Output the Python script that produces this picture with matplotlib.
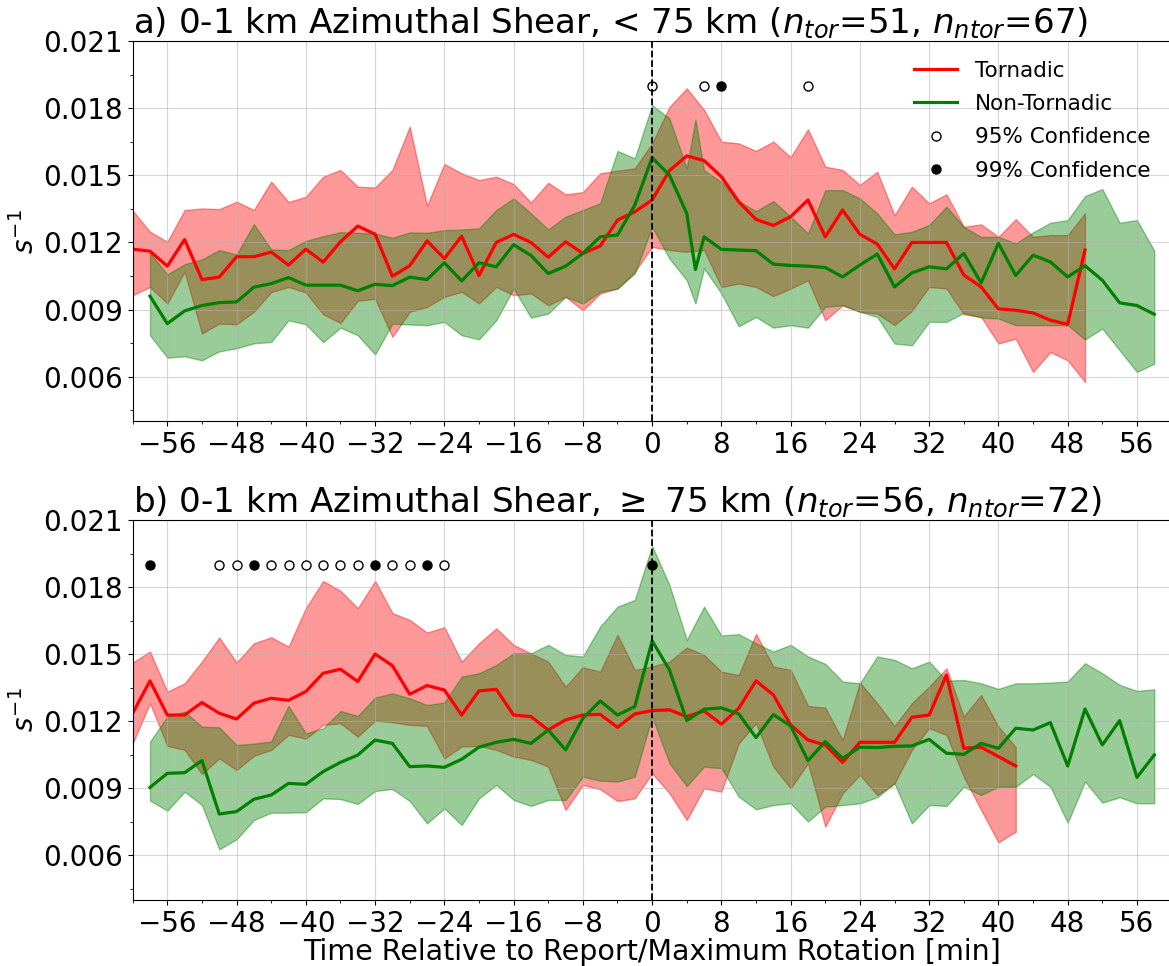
import matplotlib
matplotlib.use("Agg")
import matplotlib.pyplot as plt
from matplotlib.ticker import AutoMinorLocator, MultipleLocator

# ---- panel a: < 75 km ----
t_tor_a = list(range(-60, 51, 2))
tor_a = [0.01170, 0.01161, 0.01094, 0.01213, 0.01034, 0.01045, 0.01136, 0.01136, 0.01157, 0.01099,
         0.01170, 0.01112, 0.01203, 0.01273, 0.01237, 0.01049, 0.01096, 0.01207, 0.01128, 0.01228,
         0.01052, 0.01200, 0.01236, 0.01200, 0.01134, 0.01203, 0.01151, 0.01184, 0.01300, 0.01337,
         0.01390, 0.01521, 0.01587, 0.01566, 0.01494, 0.01382, 0.01303, 0.01276, 0.01315, 0.01390,
         0.01225, 0.01345, 0.01236, 0.01193, 0.01082, 0.01200, 0.01200, 0.01200, 0.01054, 0.01001,
         0.00903, 0.00897, 0.00885, 0.00852, 0.00834, 0.01166]
tor_a_hi = [0.01342, 0.01248, 0.01203, 0.01345, 0.01352, 0.01349, 0.01382, 0.01345, 0.01472, 0.01381,
            0.01404, 0.01494, 0.01524, 0.01449, 0.01446, 0.01524, 0.01718, 0.01364, 0.01551, 0.01509,
            0.01479, 0.01494, 0.01461, 0.01379, 0.01467, 0.01415, 0.01425, 0.01509, 0.01521, 0.01531,
            0.01643, 0.01806, 0.01889, 0.01793, 0.01651, 0.01643, 0.01609, 0.01651, 0.01581, 0.01706,
            0.01539, 0.01524, 0.01457, 0.01516, 0.01322, 0.01449, 0.01375, 0.01415, 0.01270, 0.01281,
            0.01225, 0.01304, 0.01225, 0.01233, 0.01233, 0.01330]
tor_a_lo = [0.00964, 0.01001, 0.00927, 0.01069, 0.00793, 0.00837, 0.00834, 0.00890, 0.00978, 0.01001,
            0.00976, 0.00879, 0.00840, 0.00939, 0.00948, 0.00778, 0.00890, 0.00912, 0.00957, 0.00979,
            0.00927, 0.01001, 0.00964, 0.00972, 0.00919, 0.00957, 0.00897, 0.00972, 0.00994, 0.01069,
            0.01180, 0.01166, 0.01158, 0.01166, 0.01001, 0.01016, 0.01001, 0.00960, 0.00994, 0.01031,
            0.00852, 0.00919, 0.00890, 0.00882, 0.00830, 0.00894, 0.01001, 0.00994, 0.00879, 0.00867,
            0.00748, 0.00770, 0.00621, 0.00710, 0.00673, 0.00576]

t_ntor_a = list(range(-58, 5, 2)) + [5] + list(range(6, 59, 2))
ntor_a = [0.00960, 0.00837, 0.00894, 0.00918, 0.00931, 0.00934, 0.01000, 0.01016, 0.01043, 0.01009,
          0.01009, 0.01009, 0.00984, 0.01013, 0.01007, 0.01045, 0.01034, 0.01109, 0.01028, 0.01109,
          0.01091, 0.01190, 0.01142, 0.01061, 0.01094, 0.01151, 0.01225, 0.01233, 0.01367, 0.01579,
          0.01501, 0.01330,
          0.01079,
          0.01225, 0.01169, 0.01166, 0.01163, 0.01103, 0.01097, 0.01094, 0.01088, 0.01046,
          0.01099, 0.01148, 0.01001, 0.01064, 0.01091, 0.01082, 0.01151, 0.01019, 0.01196,
          0.01052, 0.01143, 0.01113, 0.01046, 0.01096, 0.01031, 0.00930, 0.00918, 0.00879]
ntor_a_hi = [0.01154, 0.01057, 0.01103, 0.01124, 0.01166, 0.01146, 0.01282, 0.01169, 0.01166, 0.01207,
             0.01228, 0.01246, 0.01243, 0.01240, 0.01221, 0.01245, 0.01243, 0.01255, 0.01258, 0.01263,
             0.01345, 0.01397, 0.01330, 0.01258, 0.01315, 0.01345, 0.01375, 0.01609, 0.01576, 0.01814,
             0.01754, 0.01531,
             0.01750,
             0.01523, 0.01471, 0.01385, 0.01340, 0.01385, 0.01315, 0.01240, 0.01434, 0.01434,
             0.01397, 0.01330, 0.01236, 0.01248, 0.01278, 0.01360, 0.01270, 0.01225, 0.01225,
             0.01196, 0.01245, 0.01288, 0.01300, 0.01407, 0.01439, 0.01288, 0.01300, 0.01163]
ntor_a_lo = [0.00785, 0.00685, 0.00691, 0.00673, 0.00713, 0.00727, 0.00749, 0.00755, 0.00852, 0.00834,
             0.00754, 0.00819, 0.00785, 0.00699, 0.00837, 0.00833, 0.00830, 0.00845, 0.00785, 0.00767,
             0.00852, 0.00994, 0.00864, 0.00882, 0.00957, 0.00927, 0.00979, 0.00994, 0.01061, 0.01270,
             0.01128, 0.01031,
             0.00927,
             0.01084, 0.00972, 0.00825, 0.00867, 0.00819, 0.00830, 0.00819, 0.00912, 0.00919,
             0.00890, 0.00867, 0.00748, 0.00740, 0.00845, 0.00845, 0.00885, 0.00864, 0.00860,
             0.00830, 0.00830, 0.00830, 0.00830, 0.00766, 0.00815, 0.00718, 0.00621, 0.00658]

sig95_a = [0, 6, 18]
sig99_a = [8]

# ---- panel b: >= 75 km ----
t_tor_b = list(range(-60, 43, 2))
tor_b = [0.01236, 0.01381, 0.01228, 0.01228, 0.01284, 0.01236, 0.01210, 0.01281, 0.01303, 0.01294,
         0.01333, 0.01415, 0.01433, 0.01378, 0.01501, 0.01449, 0.01321, 0.01360, 0.01340, 0.01228,
         0.01336, 0.01343, 0.01228, 0.01221, 0.01161, 0.01206, 0.01228, 0.01231, 0.01173, 0.01233,
         0.01248, 0.01251, 0.01221, 0.01246, 0.01187, 0.01258, 0.01381, 0.01318, 0.01184, 0.01116,
         0.01094, 0.01016, 0.01106, 0.01106, 0.01106, 0.01218, 0.01228, 0.01407, 0.01079, 0.01084,
         0.01042, 0.01000]
tor_b_hi = [0.01463, 0.01512, 0.01333, 0.01370, 0.01467, 0.01575, 0.01463, 0.01549, 0.01576, 0.01534,
            0.01706, 0.01828, 0.01784, 0.01706, 0.01828, 0.01684, 0.01654, 0.01597, 0.01621, 0.01467,
            0.01549, 0.01616, 0.01542, 0.01504, 0.01467, 0.01355, 0.01442, 0.01422, 0.01587, 0.01430,
            0.01445, 0.01467, 0.01530, 0.01497, 0.01422, 0.01407, 0.01591, 0.01445, 0.01430, 0.01269,
            0.01261, 0.01116, 0.01373, 0.01281, 0.01179, 0.01281, 0.01355, 0.01437, 0.01221, 0.01318,
            0.01176, 0.01084]
tor_b_lo = [0.01101, 0.01281, 0.01090, 0.01072, 0.00964, 0.01034, 0.00982, 0.01045, 0.01072, 0.01139,
            0.01122, 0.01184, 0.01191, 0.01131, 0.01203, 0.01196, 0.01184, 0.01179, 0.01034, 0.01087,
            0.01090, 0.01072, 0.01042, 0.01027, 0.00997, 0.00803, 0.00915, 0.00896, 0.00843, 0.00855,
            0.00967, 0.00878, 0.00758, 0.00900, 0.00885, 0.01101, 0.01191, 0.00997, 0.00900, 0.01012,
            0.00728, 0.00878, 0.00960, 0.00870, 0.00922, 0.01072, 0.01169, 0.01139, 0.00952, 0.00803,
            0.00658, 0.00706]

t_ntor_b = list(range(-58, 59, 2))
ntor_b = [0.00904, 0.00967, 0.00970, 0.01024, 0.00785, 0.00796, 0.00851, 0.00870, 0.00922, 0.00918,
          0.00975, 0.01016, 0.01049, 0.01116, 0.01101, 0.00997, 0.01000, 0.00994, 0.01030, 0.01084,
          0.01106, 0.01119, 0.01101, 0.01161, 0.01072, 0.01213, 0.01291, 0.01228, 0.01266, 0.01560,
          0.01430, 0.01203, 0.01254, 0.01260, 0.01233, 0.01127, 0.01230, 0.01179, 0.01024, 0.01109,
          0.01034, 0.01084, 0.01082, 0.01088, 0.01090, 0.01119, 0.01057, 0.01052, 0.01101, 0.01079,
          0.01169, 0.01161, 0.01194, 0.01000, 0.01255, 0.01094, 0.01203, 0.00949, 0.01049]
ntor_b_hi = [0.01109, 0.01221, 0.01243, 0.01176, 0.01173, 0.01094, 0.01100, 0.01110, 0.01269, 0.01146,
             0.01169, 0.01246, 0.01224, 0.01306, 0.01325, 0.01303, 0.01273, 0.01284, 0.01400, 0.01415,
             0.01452, 0.01504, 0.01504, 0.01542, 0.01497, 0.01490, 0.01624, 0.01713, 0.01743, 0.01985,
             0.01810, 0.01564, 0.01713, 0.01584, 0.01590, 0.01549, 0.01512, 0.01542, 0.01490, 0.01457,
             0.01378, 0.01370, 0.01490, 0.01475, 0.01437, 0.01467, 0.01382, 0.01385, 0.01370, 0.01345,
             0.01370, 0.01370, 0.01373, 0.01378, 0.01460, 0.01415, 0.01363, 0.01336, 0.01343]
ntor_b_lo = [0.00845, 0.00800, 0.00885, 0.00825, 0.00627, 0.00672, 0.00758, 0.00791, 0.00791, 0.00793,
             0.00855, 0.00852, 0.00830, 0.00888, 0.00897, 0.00843, 0.00743, 0.00810, 0.00736, 0.00855,
             0.00915, 0.00848, 0.00821, 0.00848, 0.00848, 0.00952, 0.00934, 0.00930, 0.00952, 0.01221,
             0.01012, 0.00910, 0.00997, 0.00990, 0.00863, 0.00806, 0.00825, 0.00833, 0.00751, 0.00818,
             0.00825, 0.00833, 0.00860, 0.00922, 0.00743, 0.00825, 0.00821, 0.00907, 0.00870, 0.00907,
             0.00907, 0.00964, 0.00907, 0.00746, 0.00930, 0.00836, 0.00860, 0.00833, 0.00833]

sig95_b = [-50, -48, -44, -42, -40, -38, -36, -34, -30, -28, -24]
sig99_b = [-58, -46, -32, -26, 0]

SIG_Y = 0.019
TICK_FS = 20


def draw_panel(ax, t_tor, tor, tor_lo, tor_hi, t_ntor, ntor, ntor_lo, ntor_hi, sig95, sig99, title):
    ax.fill_between(t_tor, tor_lo, tor_hi, color="red", alpha=0.4)
    ax.fill_between(t_ntor, ntor_lo, ntor_hi, color="green", alpha=0.4)
    ax.plot(t_tor, tor, color="red", lw=2.3, label="Tornadic")
    ax.plot(t_ntor, ntor, color="green", lw=2.3, label="Non-Tornadic")
    ax.plot(sig95, [SIG_Y] * len(sig95), "o", ms=6.5, mfc="white", mec="black", mew=1.0,
            ls="none", label="95% Confidence")
    ax.plot(sig99, [SIG_Y] * len(sig99), "o", ms=6.5, mfc="black", mec="black",
            ls="none", label="99% Confidence")
    ax.axvline(0, color="black", ls="--", lw=1.3)

    ax.set_xlim(-60, 60)
    ax.set_ylim(0.004, 0.021)
    ax.yaxis.set_major_locator(MultipleLocator(0.003))
    ax.xaxis.set_minor_locator(AutoMinorLocator(2))
    ax.yaxis.set_minor_locator(AutoMinorLocator(2))
    ax.set_xticks(range(-56, 57, 8))
    ax.tick_params(labelsize=TICK_FS)
    ax.yaxis.set_major_formatter(plt.FuncFormatter(lambda v, _: f"{v:.3f}"))
    ax.grid(True, color="#b0b0b0", alpha=0.5, lw=0.8)
    ax.set_ylabel("$s^{-1}$", fontsize=TICK_FS, labelpad=2)
    ax.set_title(title, loc="left", fontsize=24.6, pad=4)


fig = plt.figure(figsize=(11.69, 9.66), dpi=100)
ax_a = fig.add_axes([0.1135, 0.5638, 0.8887, 0.3936])
ax_b = fig.add_axes([0.1135, 0.0683, 0.8887, 0.3932])

draw_panel(ax_a, t_tor_a, tor_a, tor_a_lo, tor_a_hi, t_ntor_a, ntor_a, ntor_a_lo, ntor_a_hi,
           sig95_a, sig99_a,
           "a) 0-1 km Azimuthal Shear, < 75 km ($n_{tor}$=51, $n_{ntor}$=67)")
draw_panel(ax_b, t_tor_b, tor_b, tor_b_lo, tor_b_hi, t_ntor_b, ntor_b, ntor_b_lo, ntor_b_hi,
           sig95_b, sig99_b,
           "b) 0-1 km Azimuthal Shear, $\\geq$ 75 km ($n_{tor}$=56, $n_{ntor}$=72)")

ax_a.legend(loc="upper right", fontsize=15.5, frameon=False, borderaxespad=0.5,
            labelspacing=0.62, bbox_to_anchor=(0.998, 1.0))
ax_b.set_xlabel("Time Relative to Report/Maximum Rotation [min]", fontsize=20.5, labelpad=0)

fig.savefig("out.png", dpi=100)
